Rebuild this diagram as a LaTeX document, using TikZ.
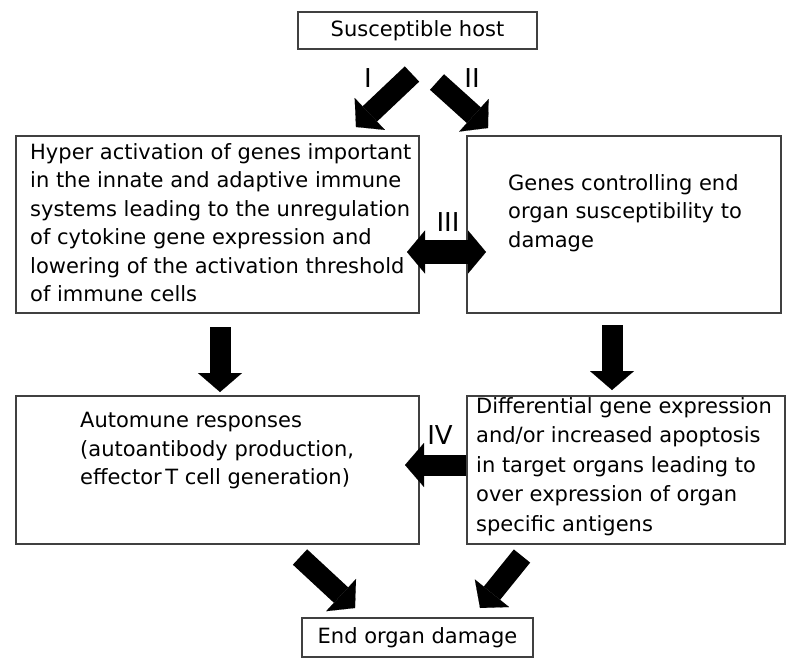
\documentclass[tikz,border=0pt]{standalone}
\usepackage{fontspec}
\setmainfont{DejaVu Sans}
\usetikzlibrary{arrows.meta,positioning}

\begin{document}
\begin{tikzpicture}[x=1pt, y=-1pt,
    panel/.style={draw=black!75, line width=1.7pt, anchor=north west, inner sep=0pt, font=\fontsize{21}{28.5}\selectfont},
    txt/.style={anchor=north west, align=left, inner sep=0pt, font=\fontsize{21}{28.5}\selectfont},
    num/.style={inner sep=0pt, font=\fontsize{26}{26}\selectfont},
    fat/.style={line width=21pt, -{Triangle[width=44pt, length=19pt, line width=0.1pt]}},
    fatboth/.style={line width=24pt, {Triangle[width=43pt, length=18pt, line width=0.1pt]}-{Triangle[width=43pt, length=18pt, line width=0.1pt]}}
]
\useasboundingbox (0,0) rectangle (800,670);

\node[panel, anchor=center, minimum width=239pt, minimum height=37pt] (host) at (417.5,30.5) {Susceptible host};
\node[panel, minimum width=403pt, minimum height=177pt] (hyper) at (15,135) {};
\node[panel, minimum width=314pt, minimum height=177pt] (organ) at (466,135) {};
\node[panel, minimum width=403pt, minimum height=148pt] (auto) at (15,395) {};
\node[panel, minimum width=318pt, minimum height=148pt] (diff) at (466,395) {};
\node[panel, anchor=center, minimum width=231pt, minimum height=39pt] (end) at (417.5,637.5) {End organ damage};

\node[txt] (hyper-txt) at (30,143) {Hyper activation of genes important\\in the innate and adaptive immune\\systems leading to the unregulation\\of cytokine gene expression and\\lowering of the activation threshold\\of immune cells};
\node[txt] (organ-txt) at (508,174) {Genes controlling end\\organ susceptibility to\\damage};
\node[txt] (auto-txt) at (80,412) {Automune responses\\(autoantibody production,\\effector\,T cell generation)};
\node[txt, font=\fontsize{21}{29.5}\selectfont] (diff-txt) at (476,397) {Differential gene expression\\and/or increased apoptosis\\in target organs leading to\\over expression of organ\\specific antigens};

\coordinate (i-a) at (412,74);  \coordinate (i-b) at (356,127);
\coordinate (ii-a) at (437,82); \coordinate (ii-b) at (488,128);
\coordinate (iii-a) at (407,252); \coordinate (iii-b) at (486,252);
\coordinate (iv-a) at (466,465); \coordinate (iv-b) at (405,465);
\coordinate (dl-a) at (220,327); \coordinate (dl-b) at (220,392);
\coordinate (dr-a) at (612,325); \coordinate (dr-b) at (612,390);
\coordinate (el-a) at (300,557); \coordinate (el-b) at (355,608);
\coordinate (er-a) at (522,556); \coordinate (er-b) at (480,608);

\draw[fat] (i-a) -- (i-b);
\draw[fat] (ii-a) -- (ii-b);
\draw[fatboth] (iii-a) -- (iii-b);
\draw[fat] (iv-a) -- (iv-b);
\draw[fat] (dl-a) -- (dl-b);
\draw[fat] (dr-a) -- (dr-b);
\draw[fat] (el-a) -- (el-b);
\draw[fat] (er-a) -- (er-b);

\node[num] (lab-i) at (368,78) {I};
\node[num] (lab-ii) at (472,78) {II};
\node[num] (lab-iii) at (448,222) {III};
\node[num] (lab-iv) at (440,435) {IV};
\end{tikzpicture}
\end{document}
